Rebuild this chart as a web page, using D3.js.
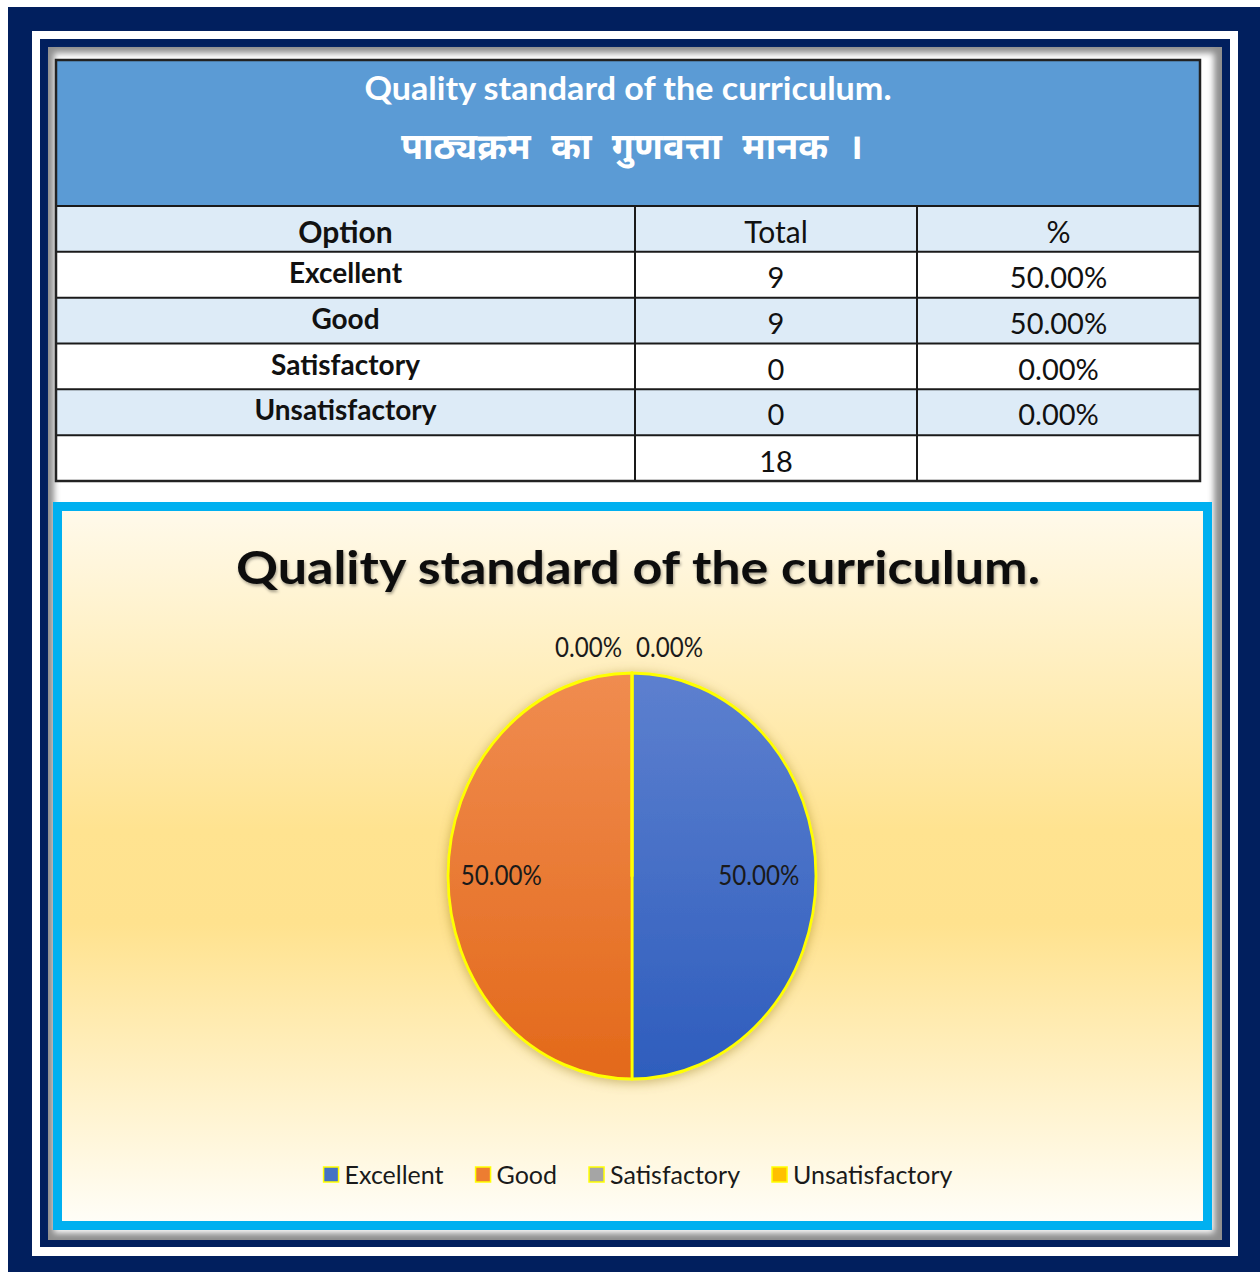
<!DOCTYPE html>
<html>
<head>
<meta charset="utf-8">
<script src="https://cdn.jsdelivr.net/npm/d3@7"></script>
<style>
  body { margin: 0; background: #fff; }
  svg { display: block; font-family: Lato, 'Open Sans', sans-serif; }
</style>
</head>
<body>
<svg width="1260" height="1272"></svg>
<script>
// Table + chart data
const titleEn = 'Quality standard of the curriculum.'
const titleHi = 'पाठ्यक्रम का गुणवत्ता मानक ।'
const headers = ['Option', 'Total', '%']
const options = ['Excellent', 'Good', 'Satisfactory', 'Unsatisfactory']
const totals = [9, 9, 0, 0]
const percentLabels = ['50.00%', '50.00%', '0.00%', '0.00%']
const grandTotal = 18
const sliceColors = ['#4472C4', '#ED7D31', '#A5A5A5', '#FFC000']

const svg = d3.select('svg')
const defs = svg.append('defs')

// Frames round the page
svg.append('rect').attr('x', 8).attr('y', 7).attr('width', 1252).attr('height', 1265).attr('fill', '#011F5E')
svg.append('rect').attr('x', 32).attr('y', 31).attr('width', 1206).attr('height', 1225).attr('fill', '#fff')
svg.append('rect').attr('x', 40).attr('y', 39).attr('width', 1190).attr('height', 1208).attr('fill', '#011F5E')

// Inner panel with a soft inset shadow
const inset = defs.append('filter').attr('id', 'inset').attr('x', -0.05).attr('y', -0.05).attr('width', 1.1).attr('height', 1.1)
inset.append('feGaussianBlur').attr('stdDeviation', 3)
svg.append('rect').attr('x', 48).attr('y', 47).attr('width', 1174).attr('height', 1193).attr('fill', '#8f8f8f')
svg.append('rect').attr('x', 54).attr('y', 53).attr('width', 1160).attr('height', 1180).attr('fill', '#fff')
  .attr('filter', 'url(#inset)')

// ---------- Table ----------
const colEdges = [56, 635, 917, 1200]
const colCenter = i => (colEdges[i] + colEdges[i + 1]) / 2
const rowKeys = ['head', ...options, 'total']
const y = d3.scaleBand().domain(rowKeys).range([206, 481])

// Blue title band
svg.append('rect')
  .attr('x', colEdges[0]).attr('y', 60)
  .attr('width', colEdges[3] - colEdges[0]).attr('height', 146)
  .attr('fill', '#5B9BD5')

svg.append('text')
  .attr('x', 628).attr('y', 100)
  .attr('text-anchor', 'middle')
  .attr('fill', '#fff').attr('font-weight', 700).attr('font-size', 33)
  .attr('textLength', 527).attr('lengthAdjust', 'spacingAndGlyphs')
  .text(titleEn)

svg.append('text')
  .attr('x', 632).attr('y', 159)
  .attr('text-anchor', 'middle')
  .attr('fill', '#fff').attr('font-weight', 700).attr('font-size', 36)
  .attr('word-spacing', 11)
  .attr('font-family', "'Noto Sans Devanagari', 'Lohit Devanagari', 'FreeSans', 'Mangal', sans-serif")
  .text(titleHi)

// Row backgrounds, alternating
svg.selectAll('.rowbg')
  .data(rowKeys)
  .enter()
  .append('rect')
  .attr('x', colEdges[0]).attr('y', d => y(d))
  .attr('width', colEdges[3] - colEdges[0]).attr('height', y.bandwidth())
  .attr('fill', (d, i) => i % 2 === 0 && d !== 'total' ? '#DDEBF7' : '#fff')

// Grid lines
const grid = svg.append('g').attr('stroke', '#1a1a1a').attr('stroke-width', 2)
rowKeys.forEach(k => {
  grid.append('line').attr('x1', colEdges[0]).attr('x2', colEdges[3]).attr('y1', y(k)).attr('y2', y(k))
})
colEdges.slice(1, 3).forEach(x => {
  grid.append('line').attr('x1', x).attr('x2', x).attr('y1', 206).attr('y2', 481)
})
svg.append('rect')
  .attr('x', colEdges[0]).attr('y', 60)
  .attr('width', colEdges[3] - colEdges[0]).attr('height', 421)
  .attr('fill', 'none').attr('stroke', '#222').attr('stroke-width', 2.5)

// Header row
svg.selectAll('.head')
  .data(headers)
  .enter()
  .append('text')
  .attr('x', (d, i) => colCenter(i))
  .attr('y', y('head') + 37)
  .attr('text-anchor', 'middle')
  .attr('font-size', 30)
  .attr('font-weight', (d, i) => i === 0 ? 700 : 400)
  .attr('fill', '#111')
  .text(d => d)

// Body rows
const body = svg.selectAll('.row')
  .data(options)
  .enter()
  .append('g')
  .attr('transform', d => `translate(0, ${y(d)})`)

body.append('text')
  .attr('x', colCenter(0)).attr('y', 31)
  .attr('text-anchor', 'middle')
  .attr('font-size', 28).attr('font-weight', 700).attr('fill', '#111')
  .text(d => d)

body.append('text')
  .attr('x', colCenter(1)).attr('y', 36)
  .attr('text-anchor', 'middle')
  .attr('font-size', 29).attr('fill', '#111')
  .text((d, i) => totals[i])

body.append('text')
  .attr('x', colCenter(2)).attr('y', 36)
  .attr('text-anchor', 'middle')
  .attr('font-size', 29).attr('fill', '#111')
  .text((d, i) => percentLabels[i])

svg.append('text')
  .attr('x', colCenter(1)).attr('y', y('total') + 37)
  .attr('text-anchor', 'middle')
  .attr('font-size', 29).attr('fill', '#111')
  .text(grandTotal)

// ---------- Chart ----------
const bg = defs.append('linearGradient').attr('id', 'bg').attr('x1', 0).attr('x2', 0).attr('y1', 0).attr('y2', 1)
bg.append('stop').attr('offset', '0%').attr('stop-color', '#FFFAEC')
bg.append('stop').attr('offset', '45%').attr('stop-color', '#FFE390')
bg.append('stop').attr('offset', '58%').attr('stop-color', '#FFE28E')
bg.append('stop').attr('offset', '100%').attr('stop-color', '#FFFEF9')

svg.append('rect')
  .attr('x', 57.5).attr('y', 506.5)
  .attr('width', 1150).attr('height', 719)
  .attr('fill', 'url(#bg)')
  .attr('stroke', '#00B0F0').attr('stroke-width', 9)

const shadow = defs.append('filter').attr('id', 'tshadow')
shadow.append('feDropShadow').attr('dx', 1).attr('dy', 2).attr('stdDeviation', 1.5)
  .attr('flood-color', '#000').attr('flood-opacity', 0.35)

svg.append('text')
  .attr('x', 638).attr('y', 584)
  .attr('text-anchor', 'middle')
  .attr('font-size', 46).attr('font-weight', 700).attr('fill', '#0d0d0d')
  .attr('textLength', 804).attr('lengthAdjust', 'spacingAndGlyphs')
  .attr('filter', 'url(#tshadow)')
  .text(titleEn)

// Pie (drawn slightly narrower than tall, as in the original)
const cx = 632
const cy = 876
const radius = 203
const squeeze = 0.906

const color = d3.scaleOrdinal().domain(options).range(sliceColors)
const slices = d3.pie().sort(null).value(d => d.total)(options.map((o, i) => ({ option: o, total: totals[i] })))
const arc = d3.arc().innerRadius(0).outerRadius(radius)
const labelArc = d3.arc().innerRadius(radius * 0.7).outerRadius(radius * 0.7)

// Shaded fills for each slice
const shades = { Excellent: ['#5D80CF', '#2E5DBD'], Good: ['#F08C50', '#E3691A'], Satisfactory: ['#B5B5B5', '#959595'], Unsatisfactory: ['#FFCC33', '#F0B000'] }
options.forEach((o, i) => {
  const g = defs.append('linearGradient').attr('id', `slice${i}`)
    .attr('gradientUnits', 'userSpaceOnUse')
    .attr('x1', 0).attr('x2', 0).attr('y1', -radius).attr('y2', radius)
  g.append('stop').attr('offset', '0%').attr('stop-color', shades[o][0])
  g.append('stop').attr('offset', '100%').attr('stop-color', shades[o][1])
})

const glow = defs.append('filter').attr('id', 'glow').attr('x', -0.2).attr('y', -0.2).attr('width', 1.4).attr('height', 1.4)
glow.append('feDropShadow').attr('dx', 0).attr('dy', 2).attr('stdDeviation', 6)
  .attr('flood-color', '#8a6a10').attr('flood-opacity', 0.45)

const pie = svg.append('g')
  .attr('transform', `translate(${cx}, ${cy}) scale(${squeeze}, 1)`)

pie.append('g')
  .attr('filter', 'url(#glow)')
  .selectAll('path')
  .data(slices)
  .enter()
  .append('path')
  .attr('d', arc)
  .attr('fill', (d, i) => `url(#slice${i})`)
  .attr('stroke', '#FFFF00')
  .attr('stroke-width', 3)
  .attr('stroke-linejoin', 'round')

// Data labels
const pct = d3.format('.2%')
const sum = d3.sum(totals)
slices.forEach((d, i) => {
  const t = svg.append('text')
    .attr('font-size', 26).attr('fill', '#1a1a1a')
    .text(pct(d.data.total / sum))
  if (d.data.total > 0) {
    const [lx, ly] = labelArc.centroid(d)
    t.attr('x', cx + lx * squeeze - 2).attr('y', cy + ly + 9)
      .attr('text-anchor', 'middle')
      .attr('textLength', 81).attr('lengthAdjust', 'spacingAndGlyphs')
  } else {
    const left = d.data.option === 'Satisfactory'
    t.attr('x', left ? cx - 10 : cx + 4).attr('y', cy - radius - 16)
      .attr('text-anchor', left ? 'end' : 'start')
      .attr('textLength', 67).attr('lengthAdjust', 'spacingAndGlyphs')
  }
})

// Legend
const legend = svg.append('g').attr('transform', 'translate(0, 1175)')
const items = legend.selectAll('g')
  .data(options)
  .enter()
  .append('g')

items.append('rect')
  .attr('x', 0).attr('y', -8)
  .attr('width', 15).attr('height', 15)
  .attr('fill', d => color(d))
  .attr('stroke', '#FFFF00').attr('stroke-width', 1.5)

items.append('text')
  .attr('x', 21).attr('y', 9)
  .attr('font-size', 25).attr('fill', '#1a1a1a')
  .text(d => d)

// Lay legend entries out side by side, centred
let offset = 0
const widths = []
items.each(function () {
  const w = 21 + d3.select(this).select('text').node().getComputedTextLength()
  widths.push(offset)
  offset += w + 32
})
const legendStart = 638 - (offset - 32) / 2
items.attr('transform', (d, i) => `translate(${legendStart + widths[i]}, 0)`)
</script>
</body>
</html>
